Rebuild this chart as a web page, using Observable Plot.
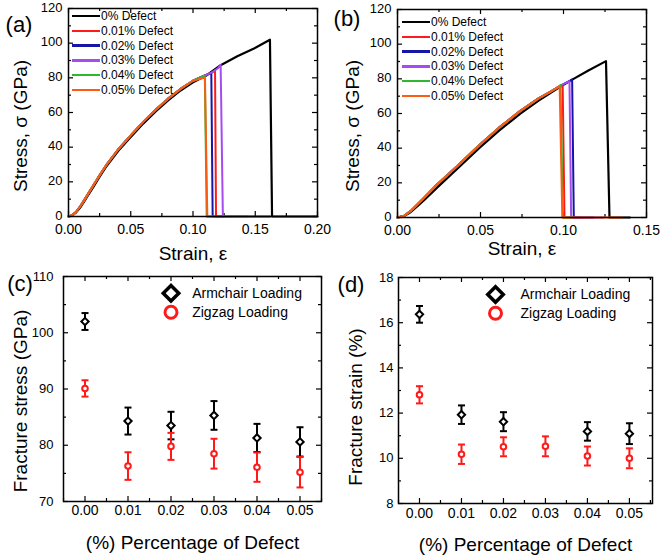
<!DOCTYPE html>
<html><head><meta charset="utf-8">
<script src="https://cdn.jsdelivr.net/npm/d3@7"></script>
<script src="https://cdn.jsdelivr.net/npm/@observablehq/plot@0.6"></script>
<style>
body{margin:0;background:#fff;}
#fig{position:relative;width:661px;height:556px;font-family:"Liberation Sans",Arial,sans-serif;color:#000;overflow:hidden;}
#fig svg{position:absolute;overflow:visible;}
.leg{position:absolute;font-size:12px;}
.leg .row{position:absolute;left:0;display:flex;align-items:center;height:14px;white-space:nowrap;}
.leg .ln{display:inline-block;width:28px;height:2.4px;margin-right:1px;}
.plabel{position:absolute;font-size:22px;transform:translate(-50%,-50%);line-height:1;}
.ytitle{position:absolute;font-size:19px;line-height:1;white-space:nowrap;transform:translate(-50%,-50%) rotate(-90deg);}
</style></head><body><div id="fig"></div>
<script>
// ---------- shared ----------
const defectSeries = ["0% Defect","0.01% Defect","0.02% Defect","0.03% Defect","0.04% Defect","0.05% Defect"];
const seriesColors = ["#000000","#ff1a1a","#1515a8","#a64bf0","#2db82d","#ff5a14"];

// ---------- (a) armchair stress-strain ----------
const aBlackStrain = [0,0.003,0.006,0.01,0.0125,0.015,0.02,0.025,0.03,0.04,0.05,0.06,0.07,0.08,0.09,0.10,0.11,0.1222,0.1356,0.149,0.1618];
const aBlackStress = [0,0.6,2.2,5.8,8.6,11.4,17.1,23.0,28.5,37.9,45.9,53.6,60.6,67.0,72.7,77.4,81.0,87.3,92.4,96.9,102.0];
const aDefectStrain = [0,0.003,0.006,0.01,0.0125,0.015,0.02,0.025,0.03,0.04,0.05,0.06,0.07,0.08,0.09,0.10,0.11,0.115,0.12];
const aDefectStress = [0,0.8,2.6,6.5,9.3,12.2,18.0,23.8,29.3,38.8,46.8,54.6,61.6,68.0,73.6,78.3,81.5,83.0,85.5];
const aPeakStrain = [0.1618,0.1177,0.1147,0.1222,0.1095,0.1096];
const aPeakStress = [102.0,84.0,82.7,87.5,81.3,80.2];
const aDropStrain = [0.1635,0.1185,0.1158,0.1240,0.1110,0.1115];
const aTailStrain = [0.20,0.125,0.162,0.1437,0.130,0.115];

// ---------- (b) zigzag stress-strain ----------
const bBlackStrain = [0,0.004,0.008,0.012,0.016,0.024,0.037,0.049,0.061,0.074,0.085,0.097,0.105,0.115,0.1256];
const bBlackStress = [0,0.8,3.2,6.6,10.0,17.4,29.0,39.8,50.0,59.9,67.4,74.8,79.4,84.8,90.2];
const bDefectStrain = [0,0.004,0.008,0.015,0.024,0.037,0.049,0.061,0.074,0.085,0.092,0.097,0.100,0.104];
const bDefectStress = [0,1.0,3.8,10.4,19.2,30.6,41.5,51.7,61.5,68.7,72.5,75.3,77.0,79.0];
const bPeakStrain = [0.1256,0.0995,0.1052,0.1036,0.0982,0.0977];
const bPeakStress = [90.2,76.3,79.7,78.6,76.4,75.2];
const bDropStrain = [0.1277,0.1006,0.1062,0.1046,0.0996,0.0993];
const bTailStrain = [0.140,0.110,0.118,0.124,0.105,0.135];

// ---------- (c),(d) fracture properties ----------
const defectPct = [0.00,0.01,0.02,0.03,0.04,0.05];
const armStress = [102.0,84.3,83.5,85.3,81.3,80.6];
const armStressErr = [1.5,2.4,2.45,2.55,2.5,2.6];
const zigStress = [90.1,76.3,79.8,78.5,76.1,75.2];
const zigStressErr = [1.45,2.45,2.4,2.65,2.6,2.7];
const armStrain = [16.37,11.93,11.62,null,11.19,11.09];
const armStrainErr = [0.37,0.41,0.42,null,0.41,0.46];
const zigStrain = [12.81,10.18,10.51,10.53,10.10,10.00];
const zigStrainErr = [0.38,0.43,0.42,0.44,0.42,0.44];
const loadingLabels = ["Armchair Loading","Zigzag Loading"];

const FONT = '"Liberation Sans", Arial, sans-serif';
const fig = document.getElementById("fig");

function buildCurves(bs, bv, ds, dv, ps, pv, drop, tail) {
  return defectSeries.map((name, i) => {
    const S = i === 0 ? bs : ds, V = i === 0 ? bv : dv;
    const pts = [];
    S.forEach((s, j) => { if (s < ps[i]) pts.push({strain: s, stress: V[j]}); });
    pts.push({strain: ps[i], stress: pv[i]});
    pts.push({strain: drop[i], stress: 0});
    pts.push({strain: tail[i], stress: 0});
    return {name, color: seriesColors[i], pts};
  });
}

const capSymbol = {draw(ctx, size) { const w = Math.sqrt(size / Math.PI); ctx.moveTo(-w, 0); ctx.lineTo(w, 0); }};

function addHtml(cls, text, x, y) {
  const d = document.createElement("div");
  d.className = cls; d.textContent = text;
  d.style.left = x + "px"; d.style.top = y + "px";
  fig.appendChild(d);
}

function panel(o) {
  const iw = o.width - o.ml - o.mr, ih = o.height - o.mt - o.mb;
  const marks = [
    Plot.tickX(o.xMinor, {x: d => d, insetTop: ih - 3, strokeWidth: 1.2}),
    Plot.tickX(o.xMinor, {x: d => d, insetBottom: ih - 3, strokeWidth: 1.2}),
    Plot.tickX(o.xMajor, {x: d => d, insetTop: ih - 5, strokeWidth: 1.2}),
    Plot.tickX(o.xMajor, {x: d => d, insetBottom: ih - 5, strokeWidth: 1.2}),
    Plot.tickY(o.yMinor, {y: d => d, insetRight: iw - 3, strokeWidth: 1.2}),
    Plot.tickY(o.yMinor, {y: d => d, insetLeft: iw - 3, strokeWidth: 1.2}),
    Plot.tickY(o.yMajor, {y: d => d, insetRight: iw - 5, strokeWidth: 1.2}),
    Plot.tickY(o.yMajor, {y: d => d, insetLeft: iw - 5, strokeWidth: 1.2}),
    Plot.axisX({ticks: o.xMajor, tickSize: 0, tickPadding: o.xPad, tickFormat: d3.format(".2f"), fontSize: 14, label: null}),
    Plot.axisY({ticks: o.yMajor, tickSize: 0, tickPadding: o.yPad, tickFormat: d3.format("d"), fontSize: 13, dy: o.yDy || 0, label: null}),
    ...o.marks,
    Plot.frame({stroke: "black", strokeWidth: 1.5}),
    Plot.text([o.xTitle], {frameAnchor: "bottom", lineAnchor: "middle", dy: o.xTitleDy, fontSize: 19})
  ];
  const svg = Plot.plot({
    width: o.width, height: o.height,
    marginLeft: o.ml, marginRight: o.mr, marginTop: o.mt, marginBottom: o.mb,
    x: {domain: o.xDomain, label: null},
    y: {domain: o.yDomain, label: null},
    style: {fontFamily: FONT, fontSize: "14px", background: "transparent", color: "black"},
    marks
  });
  svg.style.left = o.left + "px";
  svg.style.top = o.top + "px";
  fig.appendChild(svg);
  addHtml("ytitle", o.yTitle, o.yTitleX, o.yTitleY);
}

// (a)
const curvesA = buildCurves(aBlackStrain, aBlackStress, aDefectStrain, aDefectStress, aPeakStrain, aPeakStress, aDropStrain, aTailStrain);
panel({
  left: 0, top: 0, width: 330, height: 260, ml: 68, mr: 13, mt: 8, mb: 44,
  xDomain: [0, 0.2], yDomain: [0, 120],
  xMajor: [0, 0.05, 0.10, 0.15, 0.20], xMinor: [0.025, 0.075, 0.125, 0.175],
  yMajor: [0, 20, 40, 60, 80, 100, 120], yMinor: [10, 30, 50, 70, 90, 110],
  xPad: 8, yPad: 6, yDy: -1,
  xTitle: "Strain, ε", xTitleDy: 37, yTitle: "Stress, σ (GPa)", yTitleX: 20, yTitleY: 126,
  marks: curvesA.map(c => Plot.line(c.pts, {x: "strain", y: "stress", stroke: c.color, strokeWidth: c.name === "0% Defect" ? 2.2 : 2}))
});

// (b)
const curvesB = buildCurves(bBlackStrain, bBlackStress, bDefectStrain, bDefectStress, bPeakStrain, bPeakStress, bDropStrain, bTailStrain);
panel({
  left: 330, top: 0, width: 331, height: 260, ml: 67, mr: 15, mt: 9, mb: 43,
  xDomain: [0, 0.15], yDomain: [0, 120],
  xMajor: [0, 0.05, 0.10, 0.15], xMinor: [0.025, 0.075, 0.125],
  yMajor: [0, 20, 40, 60, 80, 100, 120], yMinor: [10, 30, 50, 70, 90, 110],
  xPad: 8, yPad: 6, yDy: -1,
  xTitle: "Strain, ε", xTitleDy: 31, yTitle: "Stress, σ (GPa)", yTitleX: 352, yTitleY: 126,
  marks: curvesB.map(c => Plot.line(c.pts, {x: "strain", y: "stress", stroke: c.color, strokeWidth: c.name === "0% Defect" ? 2.2 : 2}))
});

function scatterMarks(vals, errs, color, symbol, r, sw) {
  const rows = defectPct.map((x, i) => ({x, y: vals[i], e: errs[i]})).filter(d => d.y != null);
  return [
    Plot.ruleX(rows, {x: "x", y1: d => d.y - d.e, y2: d => d.y + d.e, stroke: color, strokeWidth: 2}),
    Plot.dot(rows, {x: "x", y: d => d.y + d.e, symbol: capSymbol, r: 3.5, stroke: color, strokeWidth: 2}),
    Plot.dot(rows, {x: "x", y: d => d.y - d.e, symbol: capSymbol, r: 3.5, stroke: color, strokeWidth: 2}),
    Plot.dot(rows, {x: "x", y: "y", symbol, r, stroke: color, fill: "white", strokeWidth: sw})
  ];
}
function legendMarks(dx, dy1, dy2, tdx) {
  return [
    Plot.dot([0], {frameAnchor: "top-left", dx, dy: dy1, symbol: "diamond2", r: 7, stroke: "black", strokeWidth: 3.5, fill: "white"}),
    Plot.dot([0], {frameAnchor: "top-left", dx, dy: dy2, symbol: "circle", r: 6, stroke: "#ff1a1a", strokeWidth: 3, fill: "white"}),
    Plot.text([loadingLabels[0]], {frameAnchor: "top-left", lineAnchor: "middle", dx: tdx, dy: dy1, textAnchor: "start", fontSize: 14}),
    Plot.text([loadingLabels[1]], {frameAnchor: "top-left", lineAnchor: "middle", dx: tdx, dy: dy2, textAnchor: "start", fontSize: 14})
  ];
}

// (c)
panel({
  left: 0, top: 260, width: 330, height: 296, ml: 63, mr: 9, mt: 16, mb: 55,
  xDomain: [-0.005, 0.055], yDomain: [70, 110],
  xMajor: defectPct, xMinor: [-0.005, 0.005, 0.015, 0.025, 0.035, 0.045, 0.055],
  yMajor: [70, 80, 90, 100, 110], yMinor: [75, 85, 95, 105],
  xPad: 4, yPad: 10,
  xTitle: "(%) Percentage of Defect", xTitleDy: 41, yTitle: "Fracture stress (GPa)", yTitleX: 20, yTitleY: 401,
  marks: [
    ...scatterMarks(armStress, armStressErr, "black", "diamond2", 3.3, 2),
    ...scatterMarks(zigStress, zigStressErr, "#ff1a1a", "circle", 2.8, 2),
    ...legendMarks(107.5, 16.7, 35.7, 128.7)
  ]
});

// (d)
panel({
  left: 330, top: 260, width: 331, height: 296, ml: 68, mr: 9, mt: 17, mb: 53,
  xDomain: [-0.005, 0.0555], yDomain: [8, 18],
  xMajor: defectPct, xMinor: [-0.005, 0.005, 0.015, 0.025, 0.035, 0.045, 0.055],
  yMajor: [8, 10, 12, 14, 16, 18], yMinor: [9, 11, 13, 15, 17],
  xPad: 5, yPad: 5,
  xTitle: "(%) Percentage of Defect", xTitleDy: 41, yTitle: "Fracture strain (%)", yTitleX: 355, yTitleY: 407,
  marks: [
    ...scatterMarks(armStrain, armStrainErr, "black", "diamond2", 3.3, 2),
    ...scatterMarks(zigStrain, zigStrainErr, "#ff1a1a", "circle", 2.8, 2),
    ...legendMarks(97, 17, 35.7, 122)
  ]
});

// legends for (a) and (b)
function lineLegend(left, top, spacing) {
  const div = document.createElement("div");
  div.className = "leg";
  div.style.left = left + "px"; div.style.top = top + "px";
  defectSeries.forEach((name, i) => {
    const row = document.createElement("div");
    row.className = "row";
    row.style.top = (i * spacing - 7) + "px";
    const ln = document.createElement("span");
    ln.className = "ln"; ln.style.background = seriesColors[i];
    const tx = document.createElement("span");
    tx.textContent = name;
    row.appendChild(ln); row.appendChild(tx);
    div.appendChild(row);
  });
  fig.appendChild(div);
}
lineLegend(72, 16, 14.8);
lineLegend(402, 22.3, 14.7);

// panel labels
[["(a)", 19, 25], ["(b)", 347, 19], ["(c)", 20, 284], ["(d)", 351, 285]].forEach(([t, x, y]) => addHtml("plabel", t, x, y));
</script></body></html>
